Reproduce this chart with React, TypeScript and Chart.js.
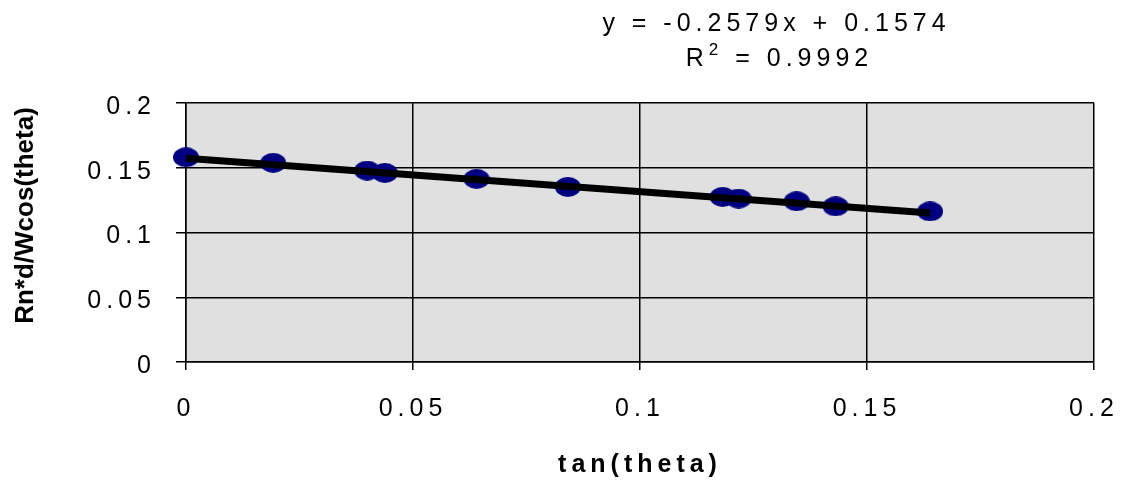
import React, { useEffect, useRef } from 'react';
import { Chart, registerables } from 'chart.js';

Chart.register(...registerables);

const FONT = "'Liberation Sans', Arial, sans-serif";

// tan(theta) values
const xValues = [0, 0.0192, 0.0399, 0.0438, 0.064, 0.0841, 0.1182, 0.1217, 0.1345, 0.1431, 0.1639];
// Rn*d/Wcos(theta) values
const yValues = [0.1581, 0.1538, 0.1478, 0.146, 0.1414, 0.1352, 0.1275, 0.1262, 0.1241, 0.1202, 0.1163];

const xTickValues = [0, 0.05, 0.1, 0.15, 0.2];
const xTickLabels = ['0', '0.05', '0.1', '0.15', '0.2'];
const yTickValues = [0, 0.05, 0.1, 0.15, 0.2];
const yTickLabels = ['0', '0.05', '0.1', '0.15', '0.2'];

const trendSlope = -0.2579;
const trendIntercept = 0.1574;
const equationText = 'y = -0.2579x + 0.1574';
const r2Value = '0.9992';

const xAxisTitle = 'tan(theta)';
const yAxisTitle = 'Rn*d/Wcos(theta)';

function makeEllipse(w: number, h: number, color: string) {
  const c = document.createElement('canvas');
  c.width = w;
  c.height = h;
  const g = c.getContext('2d')!;
  g.fillStyle = color;
  g.beginPath();
  g.ellipse(w / 2, h / 2, w / 2, h / 2, 0, 0, Math.PI * 2);
  g.fill();
  return c;
}

const bgPlugin = {
  id: 'plotBg',
  beforeDraw(chart: any) {
    const { ctx, chartArea } = chart;
    ctx.save();
    ctx.fillStyle = '#e0e0e0';
    ctx.fillRect(chartArea.left, chartArea.top, chartArea.right - chartArea.left, chartArea.bottom - chartArea.top);
    ctx.restore();
    (ctx as any).letterSpacing = '5px';
  },
  afterDraw(chart: any) {
    const ctx = chart.ctx;
    (ctx as any).letterSpacing = '0px';
    ctx.save();
    (ctx as any).letterSpacing = '5px';
    ctx.fillStyle = '#000';
    ctx.textBaseline = 'alphabetic';
    ctx.textAlign = 'left';
    ctx.font = `25px ${FONT}`;
    const w1 = ctx.measureText(equationText).width - 5;
    ctx.fillText(equationText, 774 - w1 / 2, 31);

    const rest = ' = ' + r2Value;
    const wR = ctx.measureText('R').width;
    const wRest = ctx.measureText(rest).width;
    ctx.font = `17px ${FONT}`;
    const wS = ctx.measureText('2').width;
    const total = wR + wS + wRest - 5;
    const x0 = 777 - total / 2;
    ctx.font = `25px ${FONT}`;
    ctx.fillText('R', x0, 66);
    ctx.font = `17px ${FONT}`;
    ctx.fillText('2', x0 + wR, 55);
    ctx.font = `25px ${FONT}`;
    ctx.fillText(rest, x0 + wR + wS, 66);
    ctx.restore();
  },
};

export default function App() {
  const ref = useRef<HTMLCanvasElement>(null);

  useEffect(() => {
    document.body.style.margin = '0';
    const canvas = ref.current!;
    const points = xValues.map((x, i) => ({ x, y: yValues[i] }));
    const maxX = Math.max(...xValues);
    const trendPoints = [
      { x: 0, y: trendIntercept },
      { x: maxX, y: trendSlope * maxX + trendIntercept },
    ];
    const ellipse = makeEllipse(26, 20, '#000080');

    const chart = new Chart(canvas, {
      type: 'scatter',
      data: {
        datasets: [
          {
            type: 'line',
            label: 'Trend',
            data: trendPoints,
            borderColor: '#000',
            borderWidth: 7,
            pointRadius: 0,
            order: 0,
            clip: false,
            fill: false,
          } as any,
          {
            type: 'scatter',
            label: 'Data',
            data: points,
            pointStyle: ellipse as any,
            pointRadius: 13,
            backgroundColor: '#000080',
            borderColor: '#000080',
            order: 1,
            clip: false,
          } as any,
        ],
      },
      options: {
        responsive: false,
        animation: false,
        events: [],
        layout: { padding: { top: 103, right: 29, left: 0, bottom: 0 } },
        plugins: {
          legend: { display: false },
          tooltip: { enabled: false },
          title: { display: false },
        },
        scales: {
          x: {
            type: 'linear',
            min: 0,
            max: 0.2,
            afterBuildTicks: (s: any) => {
              s.ticks = xTickValues.map((v) => ({ value: v }));
            },
            afterFit: (s: any) => {
              s.height = 118;
              s.paddingLeft = 0;
              s.paddingRight = 0;
            },
            ticks: {
              callback: (_v: any, i: number) => xTickLabels[i],
              font: { size: 25, family: FONT },
              color: '#000',
              padding: 24,
              autoSkip: false,
              maxRotation: 0,
            },
            grid: { color: '#000', lineWidth: 1.5, tickLength: 8, drawTicks: true },
            border: { color: '#000', width: 1.5 },
            title: {
              display: true,
              text: xAxisTitle,
              color: '#000',
              font: { size: 25, weight: 'bold', family: FONT },
              padding: { top: 0, bottom: 0 },
            },
          },
          y: {
            type: 'linear',
            min: 0,
            max: 0.2,
            afterBuildTicks: (s: any) => {
              s.ticks = yTickValues.map((v) => ({ value: v }));
            },
            afterFit: (s: any) => {
              s.width = 186;
              s.paddingTop = 0;
              s.paddingBottom = 0;
              if (!s._patchedTitle) {
                const orig = s.drawTitle;
                s.drawTitle = function (...args: any[]) {
                  const c = this.ctx;
                  c.save();
                  c.letterSpacing = '0px';
                  c.translate(0, -17);
                  orig.apply(this, args);
                  c.restore();
                };
                s._patchedTitle = true;
              }
            },
            ticks: {
              callback: (_v: any, i: number) => yTickLabels[i],
              font: { size: 25, family: FONT },
              color: '#000',
              padding: 20,
              labelOffset: 4,
            },
            grid: { color: '#000', lineWidth: 1.5, tickLength: 10, drawTicks: true },
            border: { color: '#000', width: 1.5 },
            title: {
              display: true,
              text: yAxisTitle,
              color: '#000',
              font: { size: 26, weight: 'bold', family: FONT },
              padding: { top: 10, bottom: 0 },
            },
          },
        },
      },
      plugins: [bgPlugin],
    } as any);

    return () => chart.destroy();
  }, []);

  return (
    <div style={{ width: 1123, height: 480 }}>
      <canvas ref={ref} width={1123} height={480} style={{ display: 'block' }} />
    </div>
  );
}
